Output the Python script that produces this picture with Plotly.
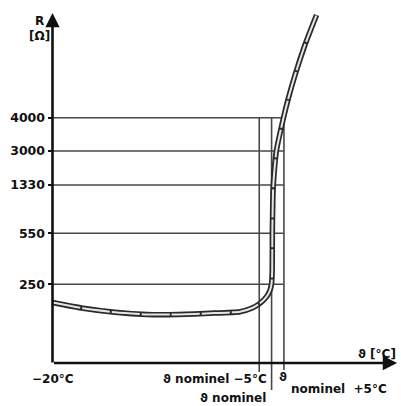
import plotly.graph_objects as go

# ---------------- data (schematic scale) ----------------
# x in °C (schematic), y in chart "level" units (schematic resistance scale)
curve_temp = [-20.0, -7.6, 5.3, 18.3, 30.8, 43.8, 55.9, 60.8, 64.0, 66.7, 68.1, 68.7,
              68.95, 69.0, 69.2, 69.4, 70.6, 73.5, 75.3, 78.2, 82.2, 86.9]
curve_level = [60.5, 54.7, 50.7, 48.5, 48.5, 49.7, 51.3, 55.0, 59.7, 66.3, 73.0, 79.7,
               93.0, 130.0, 163.0, 178.0, 211.5, 245.0, 263.0, 288.0, 318.0, 348.0]

r_tick_labels = ["250", "550", "1330", "3000", "4000"]
r_tick_levels = [78.7, 129.7, 178.0, 212.0, 245.3]

t_start = -20.0
t_nominal = 68.7
t_delta = 5.0

# ---------------- styling / geometry constants ----------------
W, H = 401, 406
PX_PER_DEG = 2.47
ORIGIN_PX = 52.5
X0 = t_start - ORIGIN_PX / PX_PER_DEG
X1 = X0 + W / PX_PER_DEG
Y0, Y1 = -43.0, 363.0
FONT = "DejaVu Sans"
GRID_COL = "#474747"
INK = "#111111"

fig = go.Figure()

# horizontal reference lines (from axis to nominal+5)
for lvl in r_tick_levels:
    fig.add_trace(go.Scatter(x=[t_start, t_nominal + t_delta], y=[lvl, lvl], mode="lines",
                             line=dict(color=GRID_COL, width=1.6), hoverinfo="skip", showlegend=False))

# vertical reference lines (nominal-5, nominal, nominal+5), extending below axis
v_temps = [t_nominal - t_delta, t_nominal, t_nominal + t_delta]
v_bottoms = [-9, -27, -7]
for vt, vb in zip(v_temps, v_bottoms):
    fig.add_trace(go.Scatter(x=[vt, vt], y=[max(r_tick_levels), vb], mode="lines",
                             line=dict(color=GRID_COL, width=1.6), hoverinfo="skip",
                             showlegend=False, cliponaxis=False))

# characteristic curve: dark outline + light interior
fig.add_trace(go.Scatter(x=curve_temp, y=curve_level, mode="lines",
                         line=dict(color="#2a2a2a", width=5.5, shape="spline", smoothing=0.5),
                         hoverinfo="skip", showlegend=False))
fig.add_trace(go.Scatter(x=curve_temp, y=curve_level, mode="lines",
                         line=dict(color="#e6e6e6", width=2, shape="spline", smoothing=0.5,
                                   dash="28px,2px"),
                         hoverinfo="skip", showlegend=False))

# axes as arrows
fig.add_annotation(x=119.5, y=0, ax=t_start, ay=0, axref="x", ayref="y", xref="x", yref="y",
                   text="", showarrow=True, arrowhead=2, arrowsize=1.1, arrowwidth=2.6,
                   arrowcolor=INK, standoff=0)
fig.add_annotation(x=t_start, y=350, ax=t_start, ay=-1, axref="x", ayref="y", xref="x", yref="y",
                   text="", showarrow=True, arrowhead=2, arrowsize=1.1, arrowwidth=2.6,
                   arrowcolor=INK, standoff=0)

lab_font = dict(family=FONT, size=12, color=INK, weight="bold")


def label(x, y, text, xanchor="center"):
    fig.add_annotation(x=x, y=y, xref="x", yref="y", text=text, showarrow=False,
                       xanchor=xanchor, yanchor="middle", font=lab_font)


label(-25.1, 342.5, "R")
label(-25.1, 327, "[Ω]")
label(-19.8, -16, "−20°C")
label(67.85, -16, "ϑ nominel −5°C", xanchor="right")
label(73.3, -14, "ϑ")
label(75.75, -26, "nominel  +5°C", xanchor="left")
label(67.3, -35, "ϑ nominel", xanchor="right")
label(119.9, 9, "ϑ [°C]", xanchor="right")

fig.update_layout(
    width=W, height=H,
    margin=dict(l=0, r=0, t=0, b=0),
    paper_bgcolor="white", plot_bgcolor="white",
    xaxis=dict(range=[X0, X1], visible=False, fixedrange=True),
    yaxis=dict(range=[Y0, Y1], anchor="free", position=ORIGIN_PX / W,
               tickvals=r_tick_levels, ticktext=r_tick_labels,
               ticks="outside", ticklen=5, tickwidth=1.5, tickcolor=INK,
               tickfont=dict(family=FONT, size=12.5, color=INK, weight="bold"),
               showgrid=False, zeroline=False, showline=False, automargin=False,
               fixedrange=True),
)

fig.write_html("out.html", config={"displayModeBar": False},
               post_script="document.body.style.margin='0';document.body.style.overflow='hidden';")
